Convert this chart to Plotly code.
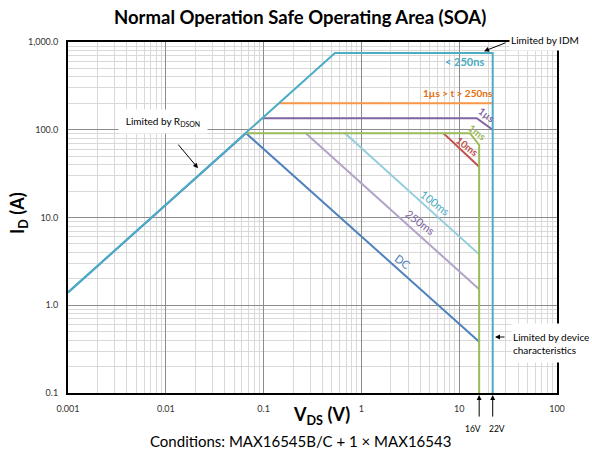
import math
import plotly.graph_objects as go

# ---------------- data ----------------
v_250ns = [0.001, 0.536, 22, 22]
i_250ns = [1.4, 750, 750, 0.1]

v_1us_250ns = [0.143, 22]
i_1us_250ns = [200, 200]

v_1us = [0.096, 15.1, 22]
i_1us = [135, 135, 100]

v_1ms = [0.066, 12.9, 16, 16]
i_1ms = [91.5, 91.5, 67, 0.1]

v_10ms = [6.88, 16]
i_10ms = [91.5, 37.8]

v_100ms = [0.68, 16]
i_100ms = [91.5, 3.8]

v_250ms = [0.27, 16]
i_250ms = [91.5, 1.52]

v_dc = [0.001, 0.066, 16]
i_dc = [1.4, 91.5, 0.384]

y_tickvals = [0.1, 1, 10, 100, 1000]
y_ticktext = ["0.1", "1.0", "10.0", "100.0", "1,000.0"]
x_tickvals = [0.001, 0.01, 0.1, 1, 10, 100]
x_ticktext = ["0.001", "0.01", "0.1", "1", "10", "100"]

FONT = "Lato"

series = [
    ("DC", v_dc, i_dc, "#4F81BD"),
    ("250ms", v_250ms, i_250ms, "#B3A2C7"),
    ("100ms", v_100ms, i_100ms, "#93CDDD"),
    ("10ms", v_10ms, i_10ms, "#C0504D"),
    ("1ms", v_1ms, i_1ms, "#9BBB59"),
    ("1us", v_1us, i_1us, "#8064A2"),
    ("1us>t>250ns", v_1us_250ns, i_1us_250ns, "#F79646"),
    ("<250ns", v_250ns, i_250ns, "#4BACC6"),
]

fig = go.Figure()
for name, xs, ys, col in series:
    fig.add_trace(go.Scatter(x=xs, y=ys, mode="lines", name=name,
                             line=dict(color=col, width=2), showlegend=False,
                             hoverinfo="skip"))

minor_x = [m * 10 ** e for e in range(-3, 2) for m in range(2, 10)]
minor_y = [m * 10 ** e for e in range(-1, 3) for m in range(2, 10)]

axis_common = dict(type="log", showline=True, linewidth=2, linecolor="black",
                   mirror=True, showgrid=True, gridcolor="#8c8c8c", gridwidth=1,
                   zeroline=False, ticks="outside", ticklen=6,
                   tickcolor="rgba(0,0,0,0)",
                   tickfont=dict(family=FONT, size=9, color="#333333"))

fig.update_xaxes(range=[-3, 2], tickmode="array", tickvals=x_tickvals,
                 ticktext=x_ticktext,
                 minor=dict(tickmode="array", tickvals=minor_x, showgrid=True,
                            gridcolor="#d9d9d9", gridwidth=1),
                 **axis_common)
fig.update_yaxes(range=[-1, 3], tickmode="array", tickvals=y_tickvals,
                 ticktext=y_ticktext,
                 minor=dict(tickmode="array", tickvals=minor_y, showgrid=True,
                            gridcolor="#d9d9d9", gridwidth=1),
                 **axis_common)

ann = []
C = dict(xanchor="center", yanchor="middle")
# curve labels (data coordinates, log10 for log axes)
labels = [
    ("< 250ns", 1.059, 2.781, "#4BACC6", 0, True, 11),
    ("1µs > t > 250ns", 0.988, 2.417, "#E46C0A", 0, True, 10),
    ("1µs", 1.284, 2.166, "#8064A2", 37, True, 10),
    ("1ms", 1.182, 1.973, "#9BBB59", 37, True, 10),
    ("10ms", 1.080, 1.813, "#C0504D", 37, True, 10),
    ("100ms", 0.753, 1.175, "#4BACC6", 37, False, 11),
    ("250ms", 0.609, 0.948, "#8064A2", 37, False, 11),
    ("DC", 0.425, 0.503, "#4F81BD", 37, False, 11),
]
for t, xl, yl, col, ang, bold, fs in labels:
    ann.append(dict(x=xl, y=yl, xref="x", yref="y", text=(f"<b>{t}</b>" if bold else t),
                    showarrow=False, textangle=ang,
                    font=dict(family=FONT, size=fs, color=col), **C))

# plot area in page pixels: x 68..557, y 42..393
def px2paper(px, py):
    return (px - 68) / 489.0, (393 - py) / 351.0

# boxes
bx, by = px2paper(551, 40)
ann.append(dict(x=bx, y=by, xref="paper", yref="paper", text="Limited by IDM",
                showarrow=False, bgcolor="white", width=80, height=18, align="left",
                font=dict(family=FONT, size=10, color="black"), **C))
bx, by = px2paper(162.5, 121.5)
ann.append(dict(x=bx, y=by, xref="paper", yref="paper",
                text="Limited by R<sub>DSON</sub>",
                showarrow=False, bgcolor="white", width=86, height=21,
                font=dict(family=FONT, size=10, color="black"), **C))
bx, by = px2paper(553, 343)
ann.append(dict(x=bx, y=by, xref="paper", yref="paper",
                text="Limited by device<br>characteristics", align="left",
                showarrow=False, bgcolor="white", width=80, height=36,
                font=dict(family=FONT, size=10, color="black"), **C))

# arrows
arrows = [
    (1.254, 2.895, "x", "y", 23, -9),
    ((198 - 68) / 97.8 - 3, (393 - 168) / 87.8 - 1, "x", "y", -21, -25),
    ((495 - 68) / 97.8 - 3, (393 - 337) / 87.8 - 1, "x", "y", 11, 0),
]
for x, y, xr, yr, ax, ay in arrows:
    ann.append(dict(x=x, y=y, xref=xr, yref=yr, text="", showarrow=True,
                    ax=ax, ay=ay, arrowhead=2, arrowsize=1, arrowwidth=1,
                    arrowcolor="black"))
for v, lx in ((16, 473), (22, 497)):
    ann.append(dict(x=math.log10(v), y=-0.006, xref="x", yref="paper", text="",
                    showarrow=True, ax=0, ay=23, arrowhead=2, arrowsize=1,
                    arrowwidth=1, arrowcolor="black"))
    bx, by = px2paper(lx, 429)
    ann.append(dict(x=bx, y=by, xref="paper", yref="paper",
                    text=f"{v}V", showarrow=False,
                    font=dict(family=FONT, size=8.5, color="black"), **C))

# titles
bx, by = px2paper(300, 17)
ann.append(dict(x=bx, y=by, xref="paper", yref="paper",
                text="<b>Normal Operation Safe Operating Area (SOA)</b>", showarrow=False,
                font=dict(family=FONT, size=18.5, color="black"), **C))
bx, by = px2paper(321, 416)
ann.append(dict(x=bx, y=by, xref="paper", yref="paper",
                text="<b>V<sub>DS</sub> (V)</b>", showarrow=False,
                font=dict(family=FONT, size=18, color="black"), **C))
bx, by = px2paper(18, 213)
ann.append(dict(x=bx, y=by, xref="paper", yref="paper",
                text="<b>I<sub>D</sub> (A)</b>", showarrow=False, textangle=-90,
                font=dict(family=FONT, size=18, color="black"), **C))
bx, by = px2paper(300, 441)
ann.append(dict(x=bx, y=by, xref="paper", yref="paper",
                text="Conditions: MAX16545B/C + 1 × MAX16543", showarrow=False,
                font=dict(family=FONT, size=15, color="black"), **C))

fig.update_layout(width=592, height=456,
                  margin=dict(l=68, r=35, t=42, b=63, autoexpand=False),
                  plot_bgcolor="white", paper_bgcolor="white",
                  annotations=ann, font=dict(family=FONT))

# remove the default page margin so the figure sits at the window's top-left corner
fig.write_html("out.html", config={"displayModeBar": False},
               post_script="document.body.style.margin='0';document.body.style.overflow='hidden';")
